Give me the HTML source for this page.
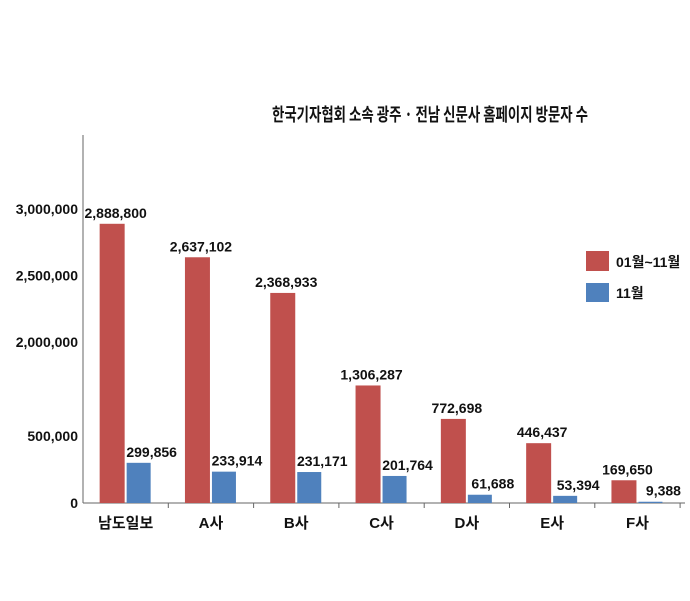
<!DOCTYPE html>
<html><head><meta charset="utf-8"><style>
body{margin:0;background:#fff;}
svg text{font-family:"Liberation Sans Narrow","Liberation Sans","Noto Sans CJK KR",sans-serif;fill:#111;}
</style></head><body>
<svg width="690" height="596" xmlns="http://www.w3.org/2000/svg">
<text x="272" y="121" font-size="18" font-weight="bold" textLength="316" lengthAdjust="spacingAndGlyphs" style="font-family:'Noto Sans CJK KR',sans-serif">한국기자협회 소속 광주 · 전남 신문사 홈페이지 방문자 수</text>
<g id="plot"></g>
<rect x="586" y="251" width="23" height="20" fill="#c0504d"/>
<text x="616" y="267" font-size="14" font-weight="bold">01월~11월</text>
<rect x="586" y="283" width="23" height="19" fill="#4f81bd"/>
<text x="616" y="298" font-size="14" font-weight="bold">11월</text>
</svg>
<script>
const categories=["남도일보","A사","B사","C사","D사","E사","F사"];
const seriesJanNov=[2888800,2637102,2368933,1306287,772698,446437,169650];
const seriesNov=[299856,233914,231171,201764,61688,53394,9388];
const tickValues=[0,500000,2000000,2500000,3000000];
const tickLabels=["0","500,000","2,000,000","2,500,000","3,000,000"];
// broken (piecewise) axis
const dom=[0,500000,2000000,3000000], rng=[503,436,342,209];
function y(v){for(let i=0;i<dom.length-1;i++){if(v<=dom[i+1]||i==dom.length-2){return rng[i]+(v-dom[i])/(dom[i+1]-dom[i])*(rng[i+1]-rng[i]);}}}
const x0=83,step=85.3;
function cx(i){return x0+step*(i+0.5);}
const g=document.getElementById('plot');const NS="http://www.w3.org/2000/svg";
function el(t,a){const e=document.createElementNS(NS,t);for(const k in a)e.setAttribute(k,a[k]);g.appendChild(e);return e;}
let ax=el('line',{x1:83,y1:135,x2:83,y2:503,stroke:'#666','stroke-width':1});


let bx=el('line',{x1:83,y1:503,x2:685,y2:503,stroke:'#666','stroke-width':1});


tickValues.forEach((v,i)=>{
 const t=el('text',{x:78,y:y(v)+5,'text-anchor':'end','font-size':14,'font-weight':'bold'});t.textContent=tickLabels[i];
 
 
});
categories.forEach((c,i)=>{
 const tk=el('line',{x1:x0+step*(i+1),y1:503,x2:x0+step*(i+1),y2:508,stroke:'#666'});
 
 
 const c0=cx(i);
 const r=el('rect',{x:c0-26,y:y(seriesJanNov[i]),width:25,height:503-y(seriesJanNov[i]),fill:'#c0504d'});
 
 
 const b=el('rect',{x:c0+1,y:y(seriesNov[i]),width:24,height:503-y(seriesNov[i]),fill:'#4f81bd'});
 
 
 const l1=el('text',{x:c0-10,y:y(seriesJanNov[i])-6,'text-anchor':'middle','font-size':14,'font-weight':'bold'});l1.textContent=seriesJanNov[i].toLocaleString('en-US');
 
 
 const l2=el('text',{x:c0+26,y:y(seriesNov[i])-6,'text-anchor':'middle','font-size':14,'font-weight':'bold'});l2.textContent=seriesNov[i].toLocaleString('en-US');
 
 
 const cl=el('text',{x:c0,y:528,'text-anchor':'middle','font-size':15,'font-weight':'bold'});cl.textContent=c;
 
 
});
</script>
</body></html>
